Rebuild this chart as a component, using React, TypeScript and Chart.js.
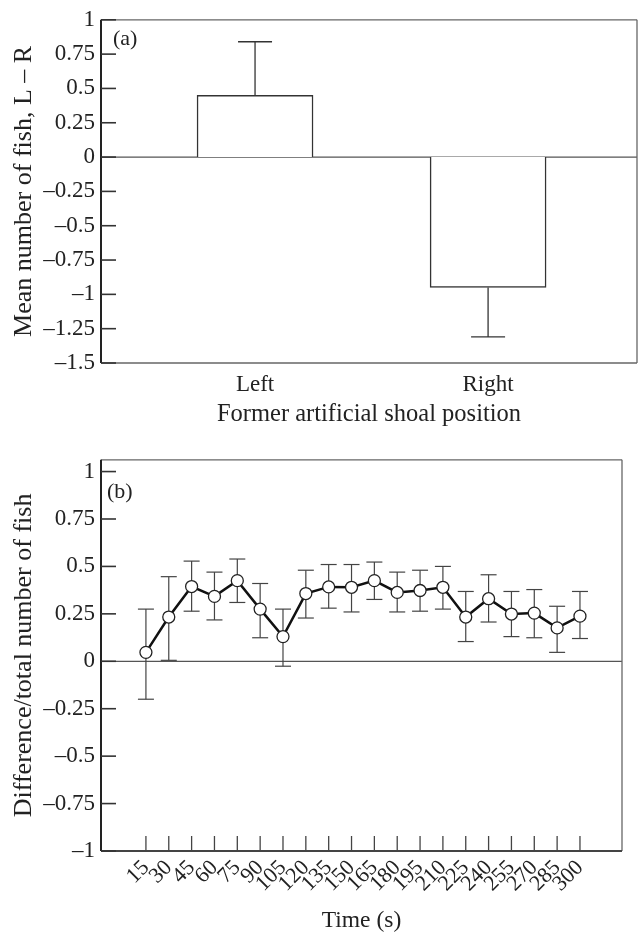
import React, { useEffect, useRef } from 'react';
import { Chart, registerables } from 'chart.js';

Chart.register(...registerables);

// ---------- Panel (a) data ----------
const positions = ['Left', 'Right'];
const meanDiff = [0.45, -0.95];
const meanDiffSE = [0.39, 0.36];
const topYTicks = [1, 0.75, 0.5, 0.25, 0, -0.25, -0.5, -0.75, -1, -1.25, -1.5];

// ---------- Panel (b) data ----------
const times = [15, 30, 45, 60, 75, 90, 105, 120, 135, 150, 165, 180, 195, 210, 225, 240, 255, 270, 285, 300];
const propMean = [0.047, 0.233, 0.394, 0.342, 0.425, 0.275, 0.13, 0.357, 0.392, 0.39, 0.425, 0.363, 0.373, 0.39, 0.233, 0.33, 0.249, 0.254, 0.176, 0.238];
const propUpper = [0.275, 0.446, 0.528, 0.47, 0.539, 0.41, 0.275, 0.48, 0.51, 0.51, 0.523, 0.47, 0.48, 0.5, 0.368, 0.456, 0.368, 0.378, 0.29, 0.368];
const propLower = [-0.2, 0.005, 0.264, 0.218, 0.31, 0.124, -0.026, 0.228, 0.28, 0.26, 0.326, 0.26, 0.264, 0.275, 0.104, 0.207, 0.13, 0.124, 0.047, 0.12];
const bottomYTicks = [1, 0.75, 0.5, 0.25, 0, -0.25, -0.5, -0.75, -1];

const FONT = "'Liberation Serif', 'Times New Roman', serif";
const fmt = (v: number) => (v < 0 ? '\u2013' : '') + String(Math.abs(Number(v.toFixed(2))));

function line(ctx: CanvasRenderingContext2D, x1: number, y1: number, x2: number, y2: number) {
  ctx.beginPath();
  ctx.moveTo(x1, y1);
  ctx.lineTo(x2, y2);
  ctx.stroke();
}

function makeDecor(label: string, labelDx: number, labelDy: number, xTicksInward: boolean, errors: (chart: any) => void) {
  return {
    id: 'decor',
    beforeDatasetsDraw(chart: any) {
      const { ctx, chartArea: a, scales } = chart;
      ctx.save();
      const y0 = scales.y.getPixelForValue(0);
      ctx.strokeStyle = '#555';
      ctx.lineWidth = 1.3;
      line(ctx, a.left, y0, a.right, y0);
      errors(chart);
      ctx.restore();
    },
    afterDraw(chart: any) {
      const { ctx, chartArea: a, scales } = chart;
      ctx.save();
      // frame
      ctx.strokeStyle = '#666';
      ctx.lineWidth = 1.3;
      line(ctx, a.left, a.top, a.right, a.top);
      line(ctx, a.right, a.top, a.right, a.bottom);
      ctx.strokeStyle = xTicksInward ? '#444' : '#666';
      ctx.lineWidth = xTicksInward ? 1.8 : 1.3;
      line(ctx, a.left, a.bottom, a.right, a.bottom);
      // left axis
      ctx.strokeStyle = '#222';
      ctx.lineWidth = 2;
      line(ctx, a.left, a.top, a.left, a.bottom);
      // y ticks inward
      ctx.strokeStyle = '#333';
      ctx.lineWidth = 1.6;
      scales.y.ticks.forEach((t: any) => {
        const p = scales.y.getPixelForValue(t.value);
        line(ctx, a.left, p, a.left + 15, p);
      });
      if (xTicksInward) {
        ctx.lineWidth = 1.3;
        ctx.strokeStyle = '#444';
        scales.x.ticks.forEach((t: any) => {
          const p = scales.x.getPixelForValue(t.value);
          line(ctx, p, a.bottom, p, a.bottom - 15);
        });
      }
      // panel label
      ctx.fillStyle = '#222';
      ctx.font = `22px ${FONT}`;
      ctx.textAlign = 'left';
      ctx.textBaseline = 'middle';
      ctx.fillText(label, a.left + labelDx, a.top + labelDy);
      ctx.restore();
    },
  };
}

function TopChart() {
  const ref = useRef<HTMLCanvasElement>(null);
  useEffect(() => {
    const errors = (chart: any) => {
      const { ctx, scales } = chart;
      ctx.strokeStyle = '#333';
      ctx.lineWidth = 1.3;
      meanDiff.forEach((m, i) => {
        const x = scales.x.getPixelForValue(i + 1);
        const yA = scales.y.getPixelForValue(m);
        const end = m >= 0 ? m + meanDiffSE[i] : m - meanDiffSE[i];
        const yB = scales.y.getPixelForValue(end);
        line(ctx, x, yA, x, yB);
        line(ctx, x - 17, yB, x + 17, yB);
      });
    };
    const chart = new Chart(ref.current!, {
      type: 'bar',
      data: {
        datasets: [
          {
            data: meanDiff.map((v, i) => ({ x: i + 1, y: v })),
            backgroundColor: '#ffffff',
            borderColor: '#333',
            borderWidth: 1.5,
            barThickness: 116,
          },
        ],
      },
      options: {
        responsive: false,
        animation: false,
        events: [],
        layout: { padding: { top: 16, right: 3, left: 0, bottom: 0 } },
        plugins: { legend: { display: false }, tooltip: { enabled: false } },
        scales: {
          x: {
            type: 'linear',
            offset: false,
            min: 0.339,
            max: 2.639,
            grid: { display: false, drawTicks: false },
            border: { display: false },
            afterBuildTicks: (s: any) => {
              s.ticks = positions.map((_, i) => ({ value: i + 1 }));
            },
            afterFit: (s: any) => {
              s.height = 77;
            },
            ticks: {
              padding: 8,
              color: '#222',
              font: { family: FONT, size: 23 },
              maxRotation: 0,
              callback: (_v: any, i: number) => positions[i],
            },
            title: {
              display: true,
              text: 'Former artificial shoal position',
              color: '#222',
              font: { family: FONT, size: 24.5 },
              padding: { top: 0, bottom: 11 },
            },
          },
          y: {
            type: 'linear',
            min: -1.5,
            max: 1,
            grid: { display: false, drawTicks: false },
            border: { display: false },
            afterBuildTicks: (s: any) => {
              s.ticks = topYTicks.map((v) => ({ value: v }));
            },
            afterFit: (s: any) => {
              s.width = 101;
            },
            ticks: {
              padding: 6,
              color: '#222',
              font: { family: FONT, size: 23 },
              callback: (v: any) => fmt(Number(v)),
            },
            title: {
              display: true,
              text: 'Mean number of fish, L \u2013 R',
              color: '#222',
              font: { family: FONT, size: 26 },
              padding: { top: 9, bottom: 0 },
            },
          },
        },
      },
      plugins: [makeDecor('(a)', 12, 19, false, errors)],
    } as any);
    return () => chart.destroy();
  }, []);
  return <canvas ref={ref} width={640} height={440} style={{ position: 'absolute', left: 0, top: 0, width: 640, height: 440 }} />;
}

function BottomChart() {
  const ref = useRef<HTMLCanvasElement>(null);
  useEffect(() => {
    const errors = (chart: any) => {
      const { ctx, scales } = chart;
      ctx.strokeStyle = '#444';
      ctx.lineWidth = 1.2;
      times.forEach((t, i) => {
        const x = scales.x.getPixelForValue(t);
        const yT = scales.y.getPixelForValue(propUpper[i]);
        const yB = scales.y.getPixelForValue(propLower[i]);
        line(ctx, x, yT, x, yB);
        line(ctx, x - 8, yT, x + 8, yT);
        line(ctx, x - 8, yB, x + 8, yB);
      });
    };
    const chart = new Chart(ref.current!, {
      type: 'line',
      data: {
        datasets: [
          {
            data: times.map((t, i) => ({ x: t, y: propMean[i] })),
            borderColor: '#111',
            borderWidth: 2.5,
            pointRadius: 6,
            pointBackgroundColor: '#ffffff',
            pointBorderColor: '#222',
            pointBorderWidth: 1.3,
            tension: 0,
          },
        ],
      },
      options: {
        responsive: false,
        animation: false,
        events: [],
        layout: { padding: { top: 13, right: 18, left: 0, bottom: 0 } },
        plugins: { legend: { display: false }, tooltip: { enabled: false } },
        scales: {
          x: {
            type: 'linear',
            min: -14.5,
            max: 327.6,
            grid: { display: false, drawTicks: false },
            border: { display: false },
            afterBuildTicks: (s: any) => {
              s.ticks = times.map((v) => ({ value: v }));
            },
            afterFit: (s: any) => {
              s.height = 84;
            },
            ticks: {
              padding: 4,
              autoSkip: false,
              minRotation: 45,
              maxRotation: 45,
              color: '#222',
              font: { family: FONT, size: 22 },
              callback: (v: any) => String(v),
            },
            title: {
              display: true,
              text: 'Time (s)',
              color: '#222',
              font: { family: FONT, size: 23.5 },
              padding: { top: 0, bottom: 0 },
            },
          },
          y: {
            type: 'linear',
            min: -1,
            max: 1.062,
            grid: { display: false, drawTicks: false },
            border: { display: false },
            afterBuildTicks: (s: any) => {
              s.ticks = bottomYTicks.map((v) => ({ value: v }));
            },
            afterFit: (s: any) => {
              s.width = 101;
            },
            ticks: {
              padding: 6,
              color: '#222',
              font: { family: FONT, size: 23 },
              callback: (v: any) => fmt(Number(v)),
            },
            title: {
              display: true,
              text: 'Difference/total number of fish',
              color: '#222',
              font: { family: FONT, size: 26 },
              padding: { top: 9, bottom: 0 },
            },
          },
        },
      },
      plugins: [makeDecor('(b)', 6, 32, true, errors)],
    } as any);
    return () => chart.destroy();
  }, []);
  return <canvas ref={ref} width={640} height={495} style={{ position: 'absolute', left: 0, top: 440, width: 640, height: 495 }} />;
}

export default function App() {
  return (
    <div style={{ position: 'absolute', left: 0, top: 0, width: 640, height: 935, background: '#fff' }}>
      <TopChart />
      <BottomChart />
    </div>
  );
}
